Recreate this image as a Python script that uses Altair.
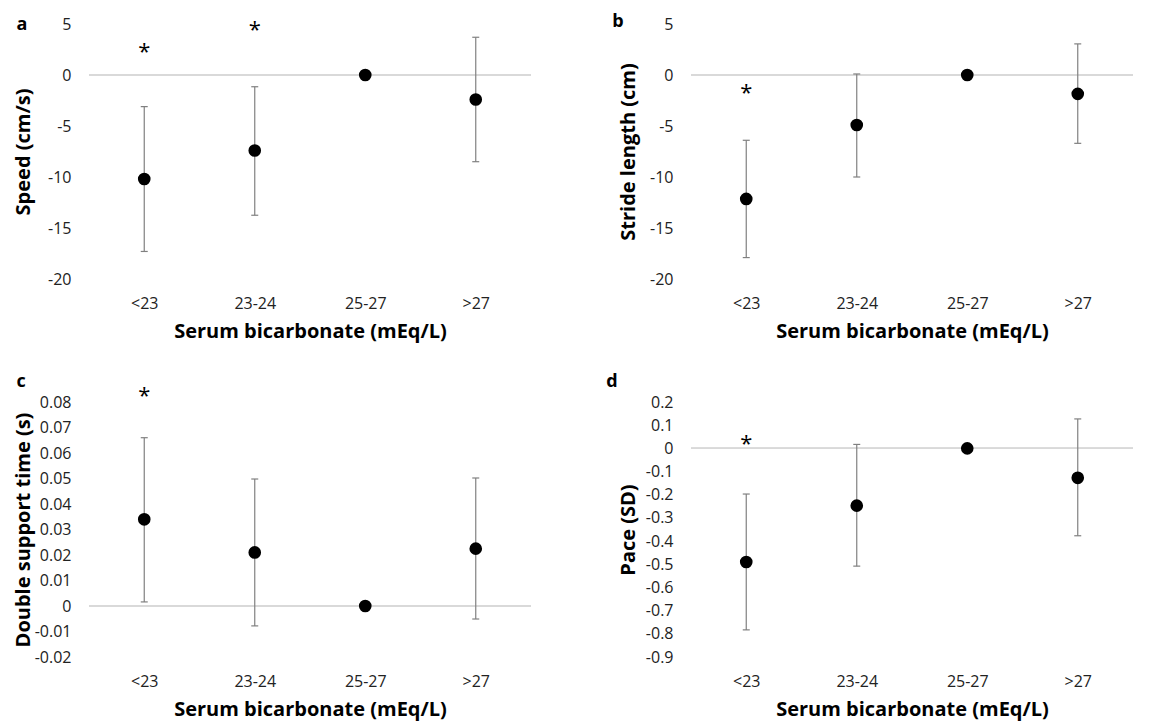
import altair as alt
import pandas as pd

categories = ["<23", "23-24", "25-27", ">27"]
x_title = "Serum bicarbonate (mEq/L)"

# Panel a: Speed (cm/s)
speed_est = [-10.2, -7.4, 0.0, -2.4]
speed_lo = [-17.3, -13.75, 0.0, -8.5]
speed_hi = [-3.1, -1.15, 0.0, 3.7]
speed_star_cat = ["<23", "23-24"]
speed_star_y = [2.7, 4.9]
speed_ticks = [-20, -15, -10, -5, 0, 5]

# Panel b: Stride length (cm)
stride_est = [-12.15, -4.9, 0.0, -1.85]
stride_lo = [-17.9, -10.0, 0.0, -6.7]
stride_hi = [-6.4, 0.1, 0.0, 3.05]
stride_star_cat = ["<23"]
stride_star_y = [-1.3]
stride_ticks = [-20, -15, -10, -5, 0, 5]

# Panel c: Double support time (s)
dst_est = [0.034, 0.021, 0.0, 0.0225]
dst_lo = [0.0016, -0.0078, 0.0, -0.0051]
dst_hi = [0.066, 0.0498, 0.0, 0.0502]
dst_star_cat = ["<23"]
dst_star_y = [0.0843]
dst_ticks = [-0.02, -0.01, 0, 0.01, 0.02, 0.03, 0.04, 0.05, 0.06, 0.07, 0.08]

# Panel d: Pace (SD)
pace_est = [-0.49, -0.247, 0.0, -0.127]
pace_lo = [-0.783, -0.508, 0.0, -0.377]
pace_hi = [-0.197, 0.017, 0.0, 0.127]
pace_star_cat = ["<23"]
pace_star_y = [0.042]
pace_ticks = [-0.9, -0.8, -0.7, -0.6, -0.5, -0.4, -0.3, -0.2, -0.1, 0, 0.1, 0.2]

FONT = "Open Sans"
W, H = 442, 255


def panel(est, lo, hi, star_cat, star_y, dom, ticks, ytitle, letter,
          letter_dx, letter_dy, title_x):
    df = pd.DataFrame({"cat": categories, "est": est, "lo": lo, "hi": hi})
    sdf = pd.DataFrame({"cat": star_cat, "y": star_y, "s": ["*"] * len(star_cat)})
    ldf = pd.DataFrame({"l": [letter]})

    xaxis = alt.Axis(title=x_title, labelAngle=0, ticks=False, domain=False,
                     grid=False, labelPadding=16, titlePadding=10,
                     labelFont=FONT, labelFontSize=16, labelColor="#222222",
                     titleFont=FONT, titleFontSize=20, titleFontWeight="bold",
                     titleColor="#000000")
    xscale = alt.Scale(type="point", domain=categories, padding=0.5)
    yaxis = alt.Axis(title=ytitle, values=ticks, ticks=False, domain=False,
                     grid=False, labelPadding=18,
                     labelExpr="'' + datum.value",
                     labelFont=FONT, labelFontSize=16, labelColor="#222222",
                     titleFont=FONT, titleFontSize=20, titleFontWeight="bold",
                     titleColor="#000000", titleX=title_x,
                     titleBaseline="middle")
    yscale = alt.Scale(domain=dom, nice=False, zero=False)

    def X():
        return alt.X("cat:N", scale=xscale, axis=xaxis, sort=categories)

    base = alt.Chart(df)
    zero = base.mark_rule(color="#d9d9d9", strokeWidth=1.5).encode(
        y=alt.Y(datum=0, type="quantitative", scale=yscale, axis=yaxis)
    )
    bars = base.mark_rule(color="#808080", strokeWidth=1.2).encode(
        x=X(),
        y=alt.Y("lo:Q", scale=yscale, axis=yaxis),
        y2="hi:Q",
    )
    caps = base.transform_fold(["lo", "hi"], as_=["k", "v"]).mark_tick(
        color="#808080", size=7, thickness=1.2, opacity=1
    ).encode(
        x=X(),
        y=alt.Y("v:Q", scale=yscale, axis=yaxis),
    )
    pts = base.mark_circle(color="#000000", size=160, opacity=1).encode(
        x=X(),
        y=alt.Y("est:Q", scale=yscale, axis=yaxis),
    )
    stars = alt.Chart(sdf).mark_text(
        font=FONT, fontSize=22, color="#000000", baseline="alphabetic", dy=12
    ).encode(
        x=X(),
        y=alt.Y("y:Q", scale=yscale, axis=yaxis),
        text="s:N",
    )
    lab = alt.Chart(ldf).mark_text(
        font=FONT, fontSize=18, fontWeight="bold", color="#000000",
        baseline="middle", align="center"
    ).encode(
        x=alt.value(letter_dx), y=alt.value(letter_dy), text="l:N"
    )
    return alt.layer(zero, bars, caps, pts, stars, lab).properties(
        width=W, height=H
    )


pa = panel(speed_est, speed_lo, speed_hi, speed_star_cat, speed_star_y,
           [-20, 5], speed_ticks, "Speed (cm/s)", "a", -67, 1, -66)
pb = panel(stride_est, stride_lo, stride_hi, stride_star_cat, stride_star_y,
           [-20, 5], stride_ticks, "Stride length (cm)", "b", -73, -2, -63)
pc = panel(dst_est, dst_lo, dst_hi, dst_star_cat, dst_star_y,
           [-0.02, 0.08], dst_ticks, "Double support time (s)", "c", -68, -20, -66)
pd_ = panel(pace_est, pace_lo, pace_hi, pace_star_cat, pace_star_y,
            [-0.9, 0.2], pace_ticks, "Pace (SD)", "d", -79, -20, -63)

chart = alt.concat(pa, pb, pc, pd_, columns=2,
                   spacing={"row": 32, "column": 74}).properties(
    padding={"left": 4, "top": 5, "right": 0, "bottom": 6}
).configure_view(stroke=None)

chart.save("out.html", embed_options={"renderer": "svg", "actions": False})
